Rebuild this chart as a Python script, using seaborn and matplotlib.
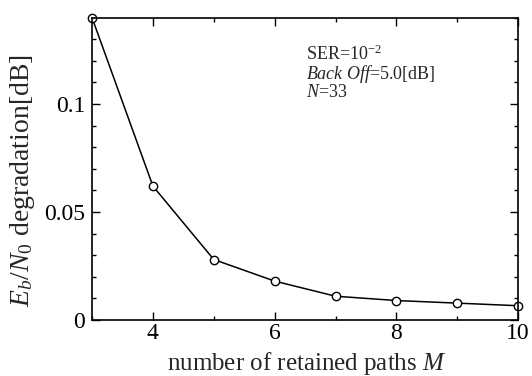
import matplotlib
matplotlib.use("Agg")
import matplotlib.pyplot as plt
from matplotlib.ticker import MultipleLocator
import seaborn as sns
import pandas as pd

# Retained paths vs. Eb/N0 degradation
paths_m = [3, 4, 5, 6, 7, 8, 9, 10]
degradation_db = [0.140, 0.062, 0.028, 0.018, 0.011, 0.009, 0.0078, 0.0066]
x_ticks = [4, 6, 8, 10]
y_ticks = [0, 0.05, 0.1]
y_tick_labels = ["0", "0.05", "0.1"]

sns.set_style("ticks")
plt.rcParams["font.family"] = ["Liberation Serif", "DejaVu Serif"]
plt.rcParams["mathtext.fontset"] = "custom"
plt.rcParams["mathtext.rm"] = "Liberation Serif"
plt.rcParams["mathtext.it"] = "Liberation Serif:italic"

df = pd.DataFrame({"M": paths_m, "deg": degradation_db})

fig = plt.figure(figsize=(5.32, 3.76), dpi=100)
ax = fig.add_axes([0.173, 0.149, 0.801, 0.804])

sns.lineplot(data=df, x="M", y="deg", ax=ax, color="black", linewidth=1.1,
             marker="o", markersize=6, markerfacecolor="white",
             markeredgecolor="black", markeredgewidth=1.0, clip_on=False)

ax.set_xlim(3, 10)
ax.set_ylim(0, 0.14)
ax.set_xticks(x_ticks)
ax.set_xticklabels([str(t) for t in x_ticks])
ax.set_yticks(y_ticks)
ax.set_yticklabels(y_tick_labels)
ax.xaxis.set_minor_locator(MultipleLocator(1))
ax.yaxis.set_minor_locator(MultipleLocator(0.01))
ax.tick_params(which="both", direction="in", top=True, right=True,
               labelsize=17, width=1.0, colors="black")
ax.tick_params(which="major", length=6)
ax.tick_params(which="minor", length=3)
ax.tick_params(axis="x", which="major", pad=2)
ax.tick_params(axis="y", which="major", pad=5)
for sp in ax.spines.values():
    sp.set_linewidth(1.2)
    sp.set_color("black")

ax.set_xlabel("number of retained paths $M$", fontsize=18)
ax.xaxis.set_label_coords(0.504, -0.10)
ax.set_ylabel("$E_b/N_0$ degradation[dB]", fontsize=20)
ax.yaxis.set_label_coords(-0.128, 0.46)

ann_x = 0.502
ax.text(ann_x, 0.861, "SER=10$^{-2}$", transform=ax.transAxes, fontsize=13,
        va="baseline", ha="left")
ax.text(ann_x, 0.798, "$Back\\ Off$=5.0[dB]", transform=ax.transAxes,
        fontsize=13, va="baseline", ha="left")
ax.text(ann_x, 0.738, "$N$=33", transform=ax.transAxes, fontsize=13,
        va="baseline", ha="left")

fig.savefig("out.png", dpi=100)
